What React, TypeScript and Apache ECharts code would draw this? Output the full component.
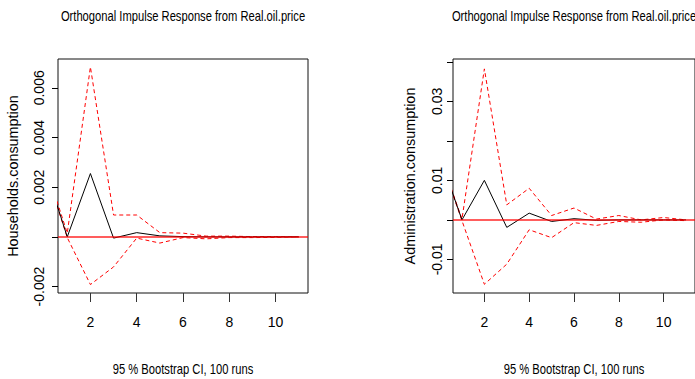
import React, { useEffect, useRef } from "react";
import * as echarts from "echarts";

const horizons = [0, 1, 2, 3, 4, 5, 6, 7, 8, 9, 10, 11];
const xTicks = [2, 4, 6, 8, 10];

const titleText = "Orthogonal Impulse Response from Real.oil.price";
const footText = "95 % Bootstrap CI, 100 runs";

const hhName = "Households.consumption";
const hhIrf = [0.0029, 0, 0.00255, -0.00005, 0.00017, 0.00004, 0.00001, 0, 0, 0, 0, 0];
const hhUpper = [0.00305, 0.00015, 0.00684, 0.00088, 0.00088, 0.00017, 0.00015, 0.00003, 0.00003, 0.00001, 0.00001, 0];
const hhLower = [0.00287, -0.00003, -0.00192, -0.00121, -0.00005, -0.00025, -0.00003, -0.00008, -0.00003, -0.00003, -0.00002, 0];
const hhTicks = [-0.002, 0, 0.002, 0.004, 0.006];
const hhLabels = [-0.002, 0.002, 0.004, 0.006];

const adName = "Administration.consumption";
const adIrf = [0.0162, 0, 0.01, -0.0019, 0.0017, -0.0004, 0.0003, -0.0001, 0, 0, 0, 0];
const adUpper = [0.0164, 0.0002, 0.0382, 0.0038, 0.008, 0.0011, 0.003, 0.0002, 0.0011, 0.0, 0.0006, 0];
const adLower = [0.016, -0.0002, -0.0163, -0.0112, -0.0025, -0.0045, -0.0007, -0.0014, -0.0004, -0.0006, 0, -0.0002];
const adTicks = [-0.01, 0, 0.01, 0.02, 0.03, 0.04];
const adLabels = [-0.01, 0.01, 0.03];

const FONT = "'Liberation Sans', Arial, sans-serif";

function pts(arr: number[]) {
  return horizons.map((h, i) => [h, arr[i]]);
}

function panelSeries(idx: number, irf: number[], up: number[], lo: number[]) {
  const dashed = { color: "#ff0000", width: 1, type: [4, 3] as any };
  return [
    { type: "line", xAxisIndex: idx, yAxisIndex: idx, data: pts(up), symbol: "none", lineStyle: dashed, clip: true, silent: true },
    { type: "line", xAxisIndex: idx, yAxisIndex: idx, data: pts(lo), symbol: "none", lineStyle: dashed, clip: true, silent: true },
    {
      type: "line",
      xAxisIndex: idx,
      yAxisIndex: idx,
      data: pts(irf),
      symbol: "none",
      lineStyle: { color: "#000000", width: 1 },
      clip: true,
      silent: true,
      markLine: {
        silent: true,
        symbol: "none",
        label: { show: false },
        lineStyle: { color: "#ff0000", width: 1.6, type: "solid", opacity: 0.85 },
        data: [{ yAxis: 0 }],
      },
    },
  ];
}

function xAxis(idx: number) {
  return {
    type: "value",
    gridIndex: idx,
    min: 0.6,
    max: 11.4,
    splitLine: { show: false },
    axisLine: { show: false, onZero: false },
    axisTick: { show: true, inside: false, length: 9, customValues: xTicks, lineStyle: { color: "#333", width: 1 } },
    axisLabel: { customValues: xTicks, margin: 22, fontSize: 14, color: "#000", fontFamily: FONT },
  };
}

function yAxis(idx: number, min: number, max: number, ticks: number[], labels: number[], dec: number, name: string, labelMargin: number, nameGap: number) {
  return {
    type: "value",
    gridIndex: idx,
    min,
    max,
    name,
    nameLocation: "middle",
    nameGap,
    nameTextStyle: { fontSize: 14.4, color: "#000", fontFamily: FONT },
    splitLine: { show: false },
    axisLine: { show: false, onZero: false },
    axisTick: { show: true, length: 6, customValues: ticks, lineStyle: { color: "#000", width: 1 } },
    axisLabel: {
      customValues: labels,
      rotate: 90,
      margin: labelMargin,
      fontSize: 14,
      color: "#000",
      fontFamily: FONT,
      formatter: (v: number) => v.toFixed(dec),
    },
  };
}

function narrowText(text: string, x: number, y: number) {
  return {
    type: "text",
    x,
    y,
    scaleX: 0.8,
    silent: true,
    style: {
      text,
      fontSize: 14,
      fontFamily: FONT,
      fill: "#000",
      textAlign: "center",
      textVerticalAlign: "middle",
    },
  };
}

export default function App() {
  const ref = useRef<HTMLDivElement>(null);
  useEffect(() => {
    document.body.style.margin = "0";
    const chart = echarts.init(ref.current!, null, { renderer: "svg" });
    const option: any = {
      animation: false,
      backgroundColor: "#ffffff",
      graphic: [
        narrowText(titleText, 183, 17),
        narrowText(titleText, 574, 17),
        narrowText(footText, 183, 370),
        narrowText(footText, 574, 370),
      ],
      grid: [
        { left: 58, top: 59, width: 250, height: 234, show: true, borderColor: "#111", borderWidth: 1, backgroundColor: "transparent" },
        { left: 453, top: 59, width: 245, height: 234, show: true, borderColor: "#111", borderWidth: 1, backgroundColor: "transparent" },
      ],
      xAxis: [xAxis(0), xAxis(1)],
      yAxis: [
        yAxis(0, -0.00226, 0.00716, hhTicks, hhLabels, 3, hhName, 12, 38),
        yAxis(1, -0.0185, 0.0407, adTicks, adLabels, 2, adName, 9, 36),
      ],
      series: [...panelSeries(0, hhIrf, hhUpper, hhLower), ...panelSeries(1, adIrf, adUpper, adLower)],
    };
    chart.setOption(option);
    return () => chart.dispose();
  }, []);
  return <div ref={ref} style={{ width: 695, height: 379, position: "absolute", left: 0, top: 0 }} />;
}
